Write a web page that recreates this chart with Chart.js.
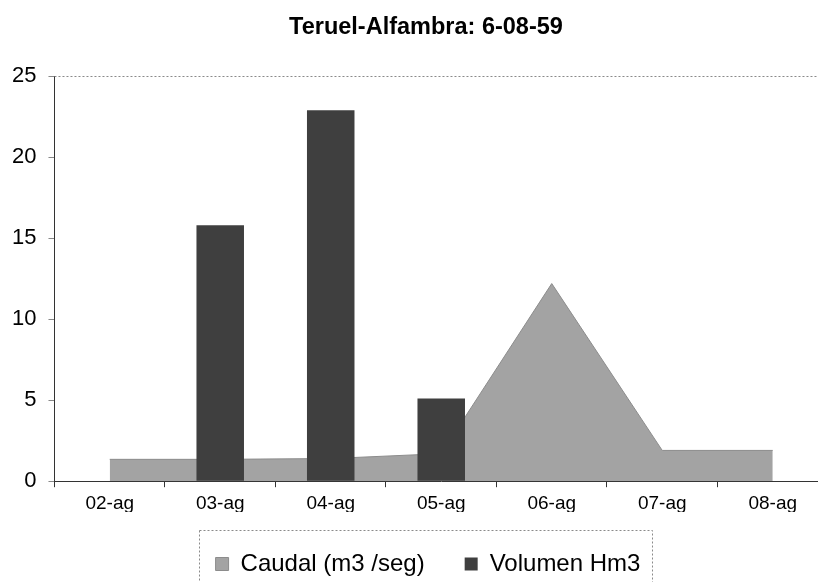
<!DOCTYPE html>
<html><head><meta charset="utf-8">
<script src="https://cdn.jsdelivr.net/npm/chart.js@4"></script>
<style>html,body{margin:0;padding:0;background:#fff;overflow:hidden}
#wrap{width:850px;height:586px;position:relative}</style></head>
<body><div id="wrap"><canvas id="c" width="850" height="586"></canvas></div>
<script>
const categories = ['02-ag','03-ag','04-ag','05-ag','06-ag','07-ag','08-ag'];
const caudal = [1.35, 1.35, 1.4, 1.7, 12.2, 1.9, 1.9];
const volumen = [null, 15.8, 22.9, 5.1, null, null, null];
const yTicks = [0, 5, 10, 15, 20, 25];
const titleText = 'Teruel-Alfambra: 6-08-59';

const FONT = '"Liberation Sans", Arial, sans-serif';

const frame = {
  id: 'frame',
  afterLayout(chart) {
    const tb = chart.titleBlock;
    if (tb) { tb.left += 12; tb.right += 12; }
    const lg = chart.legend;
    if (lg) {
      lg.left += 14; lg.right += 14;
      (lg.legendHitBoxes || []).forEach(h => { h.left += 14; });
    }
  },
  afterDraw(chart) {
    const {ctx, chartArea: a} = chart;
    ctx.save();
    ctx.strokeStyle = '#8a8a8a';
    ctx.lineWidth = 1;
    ctx.setLineDash([2, 2]);
    ctx.beginPath();
    ctx.moveTo(a.left, Math.round(a.top) + 0.5);
    ctx.lineTo(a.right, Math.round(a.top) + 0.5);
    ctx.stroke();
    const hb = chart.legend.legendHitBoxes;
    if (hb && hb.length) {
      const last = hb[hb.length - 1];
      const l = Math.round(hb[0].left - 17), r = Math.round(last.left + last.width + 12);
      const t = Math.round(hb[0].top - 22);
      ctx.strokeRect(l + 0.5, t + 0.5, r - l, 120);
    }
    ctx.restore();
  }
};

new Chart(document.getElementById('c'), {
  data: {
    labels: categories,
    datasets: [
      {
        type: 'line', label: 'Caudal (m3 /seg)', data: caudal,
        backgroundColor: '#a3a3a3', borderColor: '#8c8c8c', borderWidth: 1,
        fill: 'origin', pointRadius: 0, tension: 0, order: 2
      },
      {
        type: 'bar', label: 'Volumen Hm3', data: volumen,
        backgroundColor: '#3f3f3f', borderWidth: 0,
        barPercentage: 0.43, categoryPercentage: 1, order: 1
      }
    ]
  },
  options: {
    responsive: false,
    devicePixelRatio: 1,
    animation: false,
    layout: {padding: {left: 0, right: 22, top: 0, bottom: 0}},
    plugins: {
      title: {
        display: true, text: titleText, color: '#000',
        font: {family: FONT, size: 23.5, weight: 'bold'},
        padding: {top: 13, bottom: 35}
      },
      legend: {
        position: 'bottom',
        labels: {
          color: '#000', font: {family: FONT, size: 24},
          boxWidth: 13, boxHeight: 13, padding: 40,
          sort: (a, b) => a.datasetIndex - b.datasetIndex
        }
      },
      tooltip: {enabled: false}
    },
    scales: {
      x: {
        offset: true,
        afterFit: (s) => { s.height -= 8; },
        grid: {display: true, drawOnChartArea: false, offset: true, tickLength: 6, tickColor: '#333'},
        border: {color: '#333', width: 1},
        ticks: {color: '#000', font: {family: FONT, size: 19}, padding: 5, maxRotation: 0}
      },
      y: {
        min: 0, max: 25,
        afterBuildTicks: (s) => { s.ticks = yTicks.map(v => ({value: v})); },
        grid: {display: true, drawOnChartArea: false, tickLength: 6, tickColor: '#888'},
        border: {color: '#333', width: 1},
        ticks: {color: '#000', font: {family: FONT, size: 22}, padding: 12}
      }
    }
  },
  plugins: [frame]
});
</script>
</body></html>
